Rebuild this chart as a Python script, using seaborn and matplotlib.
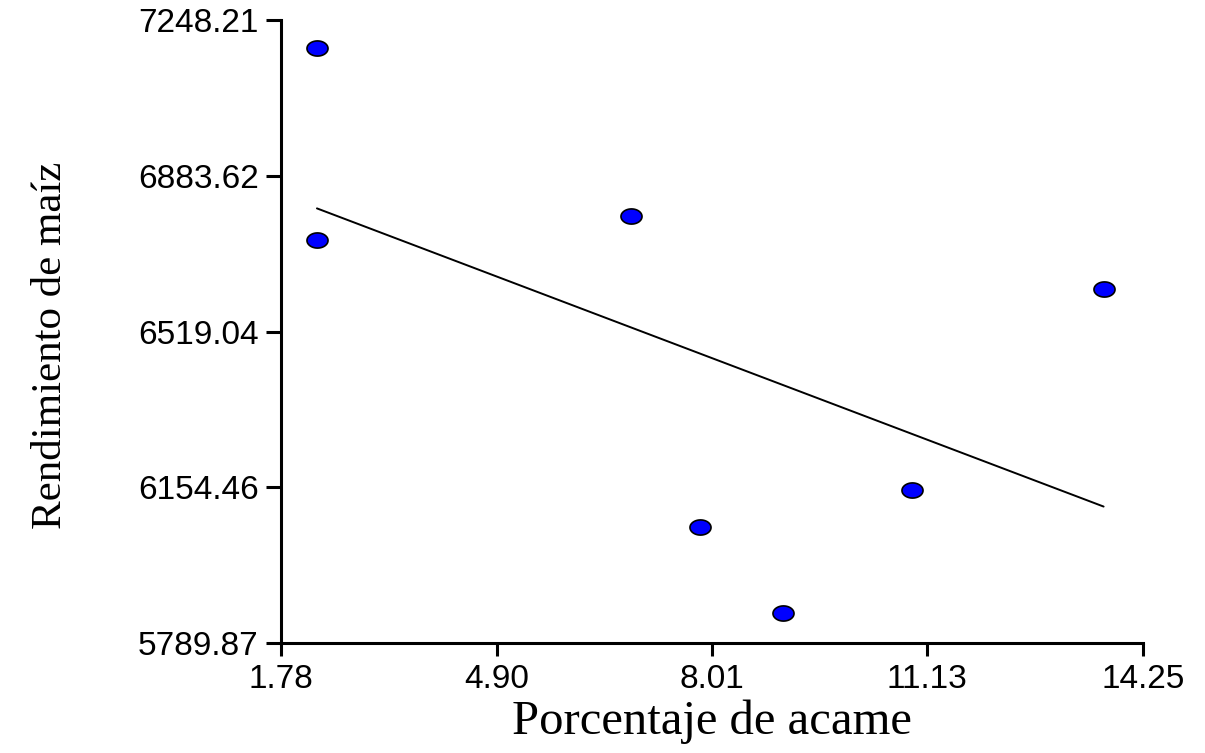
import matplotlib
matplotlib.use("Agg")
import matplotlib.pyplot as plt
from matplotlib.markers import MarkerStyle
from matplotlib.path import Path
import seaborn as sns
import pandas as pd
import numpy as np

# Data
acame = [2.30, 2.30, 6.84, 7.84, 9.04, 10.91, 13.68]
rendimiento = [7182.7, 6733.2, 6789.4, 6061.3, 5860.0, 6147.9, 6618.5]

x_ticks = [1.78, 4.90, 8.01, 11.13, 14.25]
y_ticks = [5789.87, 6154.46, 6519.04, 6883.62, 7248.21]
x_label = "Porcentaje de acame"
y_label = "Rendimiento de maíz"

df = pd.DataFrame({"acame": acame, "rend": rendimiento})

sns.set_style("white")
plt.rcParams["font.family"] = ["Liberation Serif", "DejaVu Serif"]

# slightly wide elliptical marker, as in the reference
_t = np.linspace(0, 2 * np.pi, 41)
ellipse_marker = MarkerStyle(Path(np.column_stack([np.cos(_t) * 1.0, np.sin(_t) * 0.72]), closed=True))

fig = plt.figure(figsize=(12.05, 7.53), dpi=100)
ax = fig.add_axes([281 / 1205, 110 / 753, (1143 - 281) / 1205, (643 - 20) / 753])

sns.regplot(
    data=df, x="acame", y="rend", ax=ax, ci=None, truncate=True, marker=ellipse_marker,
    scatter_kws=dict(s=230, color="#0000ff", edgecolors="black", linewidths=1.2, zorder=3, alpha=1),
    line_kws=dict(color="black", lw=1.4, zorder=2),
)

ax.set_xlim(x_ticks[0], x_ticks[-1])
ax.set_ylim(y_ticks[0], y_ticks[-1])
ax.set_xticks(x_ticks)
ax.set_yticks(y_ticks)
ax.set_xticklabels([f"{v:.2f}" for v in x_ticks], family=["Liberation Sans", "DejaVu Sans"], fontsize=24)
ax.set_yticklabels([f"{v:.2f}" for v in y_ticks], family=["Liberation Sans", "DejaVu Sans"], fontsize=24)

for side in ["top", "right"]:
    ax.spines[side].set_visible(False)
for side in ["left", "bottom"]:
    ax.spines[side].set_linewidth(2.2)
    ax.spines[side].set_color("black")

ax.tick_params(axis="y", direction="out", length=11, width=2.2, pad=5, colors="black", left=True)
ax.tick_params(axis="x", direction="out", length=9, width=2.2, pad=6, colors="black", bottom=True)

ax.set_xlabel(x_label, fontsize=35, color="black")
ax.set_ylabel(y_label, fontsize=31, color="black")
ax.xaxis.set_label_coords(0.5, -0.090)
ax.yaxis.set_label_coords(-0.245, 0.478)

fig.savefig("out.png", dpi=100, facecolor="white")
